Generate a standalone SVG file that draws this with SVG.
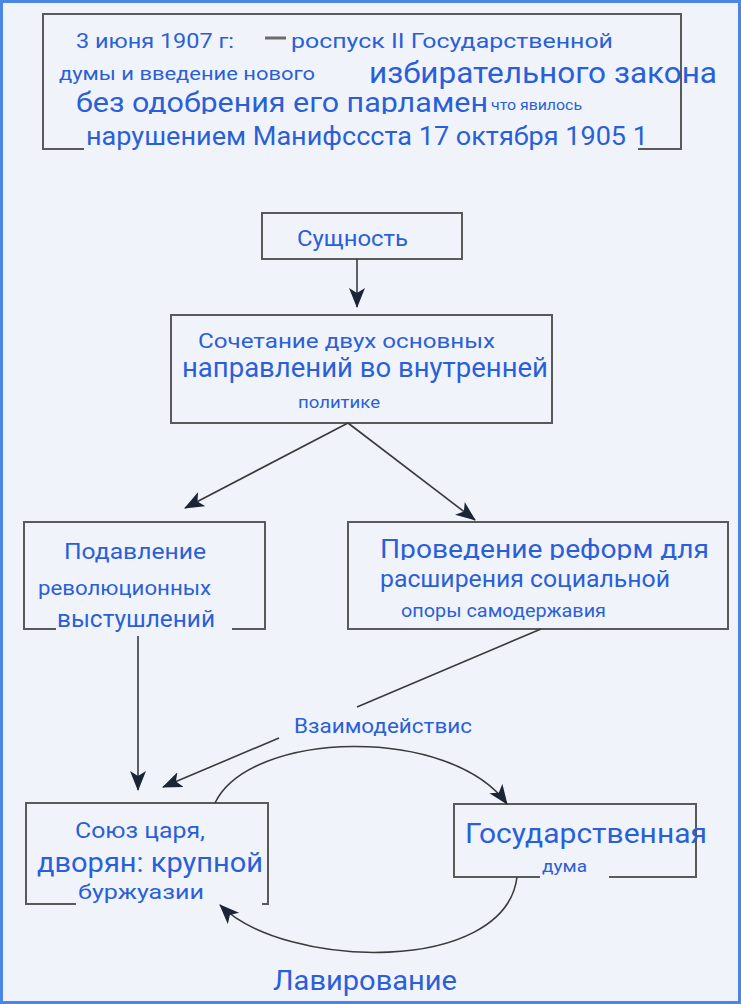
<svg xmlns="http://www.w3.org/2000/svg" width="741" height="1004" viewBox="0 0 741 1004">
<style>
.box{fill:none;stroke:#5a5a5a;stroke-width:2}
.t{font-family:Roboto,"Liberation Sans",sans-serif;fill:#2b5fd9}
.ln{fill:none;stroke:#3a3a3a;stroke-width:1.6}
</style>
<defs>
<marker id="ah" markerUnits="userSpaceOnUse" markerWidth="22" markerHeight="18" refX="19" refY="8" orient="auto">
<path d="M0,0 L20,8 L0,16 L5,8 z" fill="#1c2536"/>
</marker>
<clipPath id="c1"><rect x="40" y="86" width="700" height="28"/></clipPath>
<clipPath id="c2"><rect x="360" y="530" width="380" height="30"/></clipPath>
</defs>
<rect x="0" y="0" width="741" height="1004" fill="#f0f4fa"/>
<rect x="1.5" y="1.5" width="738" height="1001" fill="none" stroke="#4a86e8" stroke-width="3"/>

<g id="node-top">
<path class="box" d="M84,149 L43,149 L43,14 L681,14 L681,149 L638,149"/>
<line x1="265" y1="38" x2="286" y2="38" stroke="#6a6a6a" stroke-width="3"/>
<text class="t" x="76" y="48" font-size="21" textLength="158" lengthAdjust="spacingAndGlyphs">3 июня 1907 г:</text>
<text class="t" x="291" y="48" font-size="21" textLength="322" lengthAdjust="spacingAndGlyphs">роспуск II Государственной</text>
<text class="t" x="59" y="80" font-size="18" textLength="256" lengthAdjust="spacingAndGlyphs">думы и введение нового</text>
<text class="t" x="369" y="83" font-size="30" textLength="348" lengthAdjust="spacingAndGlyphs">избирательного закона</text>
<text class="t" x="76" y="112" font-size="28" textLength="412" lengthAdjust="spacingAndGlyphs" clip-path="url(#c1)">без одобрения его парламен</text>
<text class="t" x="491" y="110" font-size="15" textLength="91" lengthAdjust="spacingAndGlyphs">что явилось</text>
<text class="t" x="86" y="145" font-size="25" textLength="562" lengthAdjust="spacingAndGlyphs">нарушением Манифссста 17 октября 1905 1</text>
</g>

<g id="node-essence">
<rect class="box" x="262" y="213" width="200" height="46"/>
<text class="t" x="297" y="246" font-size="22" textLength="111" lengthAdjust="spacingAndGlyphs">Сущность</text>
</g>

<g id="node-combination">
<rect class="box" x="171" y="315" width="381" height="108"/>
<text class="t" x="198" y="348" font-size="21" textLength="297" lengthAdjust="spacingAndGlyphs">Сочетание двух основных</text>
<text class="t" x="182" y="377" font-size="28" textLength="366" lengthAdjust="spacingAndGlyphs">направлений во внутренней</text>
<text class="t" x="298" y="408" font-size="16" textLength="82" lengthAdjust="spacingAndGlyphs">политике</text>
</g>

<g id="node-suppression">
<path class="box" d="M56,629 L24,629 L24,522 L265,522 L265,629 L232,629"/>
<text class="t" x="64" y="559" font-size="22" textLength="142" lengthAdjust="spacingAndGlyphs">Подавление</text>
<text class="t" x="38" y="595" font-size="20" textLength="173" lengthAdjust="spacingAndGlyphs">революционных</text>
<text class="t" x="57" y="627" font-size="24" textLength="158" lengthAdjust="spacingAndGlyphs">выстушлений</text>
</g>

<g id="node-reforms">
<rect class="box" x="348" y="522" width="380" height="107"/>
<text class="t" x="380" y="558" font-size="25" textLength="329" lengthAdjust="spacingAndGlyphs" clip-path="url(#c2)">Проведение реформ для</text>
<text class="t" x="380" y="587" font-size="23" textLength="290" lengthAdjust="spacingAndGlyphs">расширения социальной</text>
<text class="t" x="401" y="617" font-size="18" textLength="205" lengthAdjust="spacingAndGlyphs">опоры самодержавия</text>
</g>

<g id="node-union">
<path class="box" d="M76,904 L26,904 L26,803 L268,803 L268,904 L262,904"/>
<text class="t" x="75" y="838" font-size="22" textLength="130" lengthAdjust="spacingAndGlyphs">Союз царя,</text>
<text class="t" x="37" y="872" font-size="27" textLength="226" lengthAdjust="spacingAndGlyphs">дворян: крупной</text>
<text class="t" x="78" y="899" font-size="21" textLength="126" lengthAdjust="spacingAndGlyphs">буржуазии</text>
</g>

<g id="node-duma">
<path class="box" d="M540,877 L454,877 L454,804 L696,804 L696,877 L609,877"/>
<text class="t" x="465" y="843" font-size="28" textLength="242" lengthAdjust="spacingAndGlyphs">Государственная</text>
<text class="t" x="542" y="872" font-size="17" textLength="45" lengthAdjust="spacingAndGlyphs">дума</text>
</g>

<g id="connectors">
<line class="ln" x1="357" y1="259" x2="357" y2="307" marker-end="url(#ah)"/>
<line class="ln" x1="348" y1="423" x2="185" y2="508" marker-end="url(#ah)"/>
<line class="ln" x1="348" y1="423" x2="475" y2="520" marker-end="url(#ah)"/>
<line class="ln" x1="138" y1="636" x2="138" y2="790" marker-end="url(#ah)"/>
<line class="ln" x1="541" y1="629" x2="357" y2="707"/>
<line class="ln" x1="279" y1="738" x2="163" y2="787" marker-end="url(#ah)"/>
<path class="ln" d="M215,803 C250,730 450,725 507,804" marker-end="url(#ah)"/>
<path class="ln" d="M517,877 C505,975 285,970 220,905" marker-end="url(#ah)"/>
</g>

<g id="labels">
<text class="t" x="294" y="733" font-size="21" textLength="178" lengthAdjust="spacingAndGlyphs">Взаимодействис</text>
<text class="t" x="273" y="990" font-size="27" textLength="184" lengthAdjust="spacingAndGlyphs">Лавирование</text>
</g>
</svg>
